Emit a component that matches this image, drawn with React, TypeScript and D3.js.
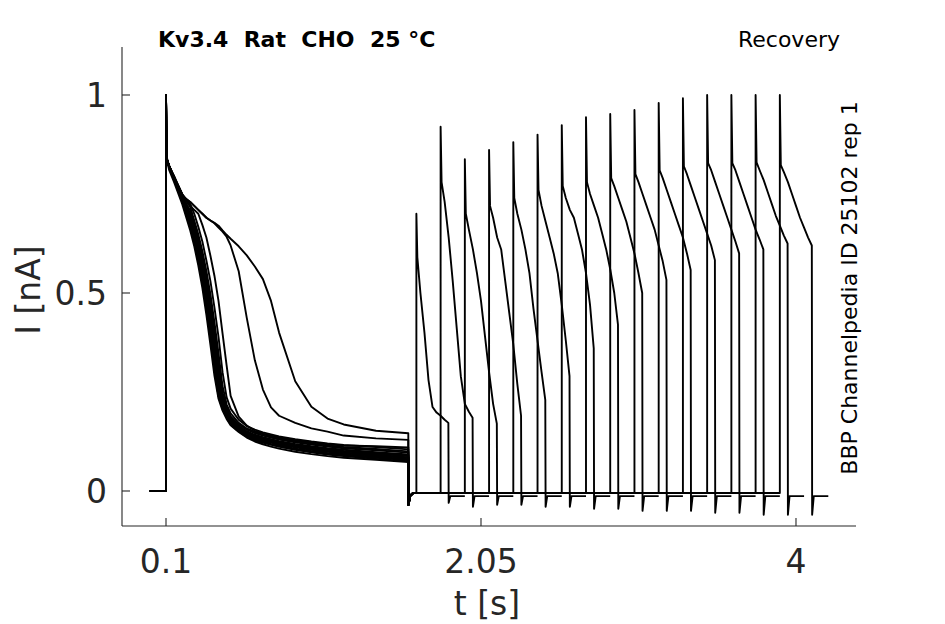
import React from 'react';
import * as d3 from 'd3';

const W = 945;
const H = 624;

// axis limits and ticks
const xLimits = [-0.1724, 4.3715];
const yLimits = [-0.0884, 1.1212];
const xTicks = [0.1, 2.05, 4];
const xTickLabels = ['0.1', '2.05', '4'];
const yTicks = [0, 0.5, 1];
const yTickLabels = ['0', '0.5', '1'];

// protocol times (s)
const recStart = 0;
const pulse1On = 0.1;
const pulse1Off = 1.6;
const pulse1Peak = 1.0;
const pulse1OffDip = -0.035;
const interBaseline = -0.005;
const tailLevel = -0.013;

// first pulse sample times (s)
const firstT = [0.103, 0.12, 0.15, 0.2, 0.25, 0.275, 0.3, 0.325, 0.35, 0.375, 0.4, 0.425, 0.45, 0.475, 0.5, 0.55, 0.6, 0.65, 0.7, 0.75, 0.8, 0.9, 1.0, 1.1, 1.2, 1.4, 1.6];

// first pulse current traces (nA)
const curveA = [0.84, 0.81, 0.78, 0.725, 0.658, 0.618, 0.569, 0.513, 0.445, 0.369, 0.291, 0.233, 0.203, 0.182, 0.166, 0.149, 0.135, 0.125, 0.118, 0.112, 0.107, 0.099, 0.093, 0.088, 0.084, 0.079, 0.073];
const curveB = [0.84, 0.817, 0.785, 0.733, 0.667, 0.63, 0.582, 0.53, 0.463, 0.389, 0.308, 0.24, 0.209, 0.186, 0.168, 0.151, 0.137, 0.128, 0.122, 0.117, 0.112, 0.105, 0.099, 0.094, 0.09, 0.084, 0.078];
const curveC = [0.84, 0.817, 0.785, 0.733, 0.667, 0.63, 0.582, 0.53, 0.463, 0.389, 0.308, 0.24, 0.209, 0.186, 0.17, 0.154, 0.141, 0.133, 0.127, 0.122, 0.117, 0.11, 0.104, 0.099, 0.095, 0.089, 0.083];
const curveD = [0.84, 0.82, 0.79, 0.74, 0.675, 0.64, 0.594, 0.543, 0.48, 0.407, 0.328, 0.257, 0.214, 0.19, 0.172, 0.155, 0.141, 0.131, 0.125, 0.119, 0.115, 0.107, 0.101, 0.096, 0.092, 0.086, 0.08];
const curveE = [0.84, 0.82, 0.79, 0.74, 0.675, 0.64, 0.594, 0.543, 0.48, 0.407, 0.328, 0.257, 0.216, 0.193, 0.176, 0.16, 0.147, 0.138, 0.132, 0.127, 0.122, 0.115, 0.109, 0.104, 0.1, 0.094, 0.088];
const curveF = [0.84, 0.82, 0.79, 0.746, 0.683, 0.648, 0.606, 0.556, 0.497, 0.426, 0.348, 0.274, 0.219, 0.197, 0.178, 0.158, 0.145, 0.135, 0.129, 0.124, 0.119, 0.112, 0.106, 0.101, 0.097, 0.091, 0.085];
const curveG = [0.84, 0.82, 0.79, 0.746, 0.683, 0.648, 0.606, 0.556, 0.497, 0.426, 0.348, 0.274, 0.222, 0.2, 0.182, 0.164, 0.151, 0.142, 0.136, 0.131, 0.126, 0.119, 0.113, 0.108, 0.104, 0.098, 0.092];
const curveH = [0.84, 0.82, 0.79, 0.748, 0.692, 0.658, 0.618, 0.569, 0.513, 0.445, 0.369, 0.291, 0.229, 0.203, 0.182, 0.162, 0.149, 0.139, 0.133, 0.128, 0.123, 0.116, 0.11, 0.105, 0.101, 0.096, 0.09];
const curveI = [0.84, 0.82, 0.79, 0.748, 0.7, 0.667, 0.63, 0.582, 0.53, 0.463, 0.389, 0.308, 0.237, 0.209, 0.188, 0.168, 0.155, 0.146, 0.14, 0.135, 0.13, 0.123, 0.117, 0.112, 0.108, 0.103, 0.097];
const curveJ = [0.84, 0.82, 0.792, 0.75, 0.717, 0.683, 0.648, 0.606, 0.556, 0.497, 0.426, 0.348, 0.265, 0.219, 0.196, 0.172, 0.158, 0.149, 0.143, 0.138, 0.133, 0.126, 0.12, 0.115, 0.111, 0.106, 0.1];
const curveK = [0.84, 0.82, 0.795, 0.75, 0.725, 0.7, 0.667, 0.63, 0.582, 0.53, 0.463, 0.389, 0.3, 0.237, 0.208, 0.18, 0.164, 0.155, 0.148, 0.143, 0.138, 0.131, 0.125, 0.12, 0.116, 0.111, 0.105];
const curveM = [0.84, 0.82, 0.795, 0.748, 0.72, 0.71, 0.7, 0.672, 0.64, 0.594, 0.543, 0.48, 0.398, 0.318, 0.24, 0.188, 0.165, 0.152, 0.145, 0.14, 0.135, 0.128, 0.123, 0.118, 0.115, 0.113, 0.11];
const curveN = [0.84, 0.82, 0.79, 0.745, 0.73, 0.72, 0.71, 0.7, 0.69, 0.683, 0.676, 0.665, 0.655, 0.642, 0.62, 0.555, 0.437, 0.33, 0.256, 0.211, 0.19, 0.172, 0.158, 0.15, 0.14, 0.133, 0.129];
const curveO = [0.845, 0.82, 0.79, 0.745, 0.73, 0.72, 0.71, 0.7, 0.69, 0.683, 0.677, 0.67, 0.658, 0.647, 0.637, 0.618, 0.595, 0.567, 0.535, 0.48, 0.4, 0.277, 0.213, 0.183, 0.168, 0.152, 0.146];
const curveP = [0.84, 0.82, 0.79, 0.748, 0.692, 0.658, 0.618, 0.569, 0.513, 0.445, 0.369, 0.291, 0.225, 0.198, 0.176, 0.155, 0.141, 0.13, 0.123, 0.117, 0.112, 0.104, 0.098, 0.092, 0.088, 0.081, 0.075];
const curveQ = [0.84, 0.82, 0.79, 0.745, 0.708, 0.675, 0.64, 0.594, 0.543, 0.48, 0.407, 0.328, 0.248, 0.213, 0.186, 0.16, 0.146, 0.136, 0.129, 0.124, 0.119, 0.112, 0.106, 0.101, 0.097, 0.091, 0.085];

// which first-pulse trace belongs to each sweep
const sweepFirst = [curveC, curveO, curveA, curveB, curveD, curveN, curveE, curveF, curveK, curveG, curveH, curveM, curveI, curveP, curveJ, curveQ];

// second (test) pulse onsets (s), peaks (nA)
const testOn = [1.65, 1.8, 1.95, 2.1, 2.25, 2.4, 2.55, 2.7, 2.85, 3.0, 3.15, 3.3, 3.45, 3.6, 3.75, 3.9];
const testPeak = [0.7, 0.92, 0.838, 0.861, 0.881, 0.9, 0.924, 0.944, 0.952, 0.962, 0.98, 0.992, 1.0, 1.0, 1.0, 1.0];
const testTailMin = [-0.03, -0.04, -0.035, -0.035, -0.04, -0.04, -0.045, -0.045, -0.05, -0.05, -0.05, -0.055, -0.055, -0.06, -0.06, -0.06];
const testDuration = 0.2;
const sweepTail = 0.1;

// test pulse sample offsets (s) after onset
const testDt = [0.006, 0.025, 0.05, 0.075, 0.1, 0.125, 0.15, 0.175, 0.198];
const test1 = [0.59, 0.5, 0.4, 0.28, 0.212, 0.198, 0.19, 0.18, 0.172];
const test2 = [0.78, 0.73, 0.64, 0.53, 0.41, 0.29, 0.22, 0.2, 0.185];
const test3 = [0.7, 0.66, 0.61, 0.55, 0.48, 0.39, 0.3, 0.22, 0.17];
const test4 = [0.72, 0.69, 0.64, 0.61, 0.53, 0.45, 0.37, 0.27, 0.19];
const test5 = [0.74, 0.7, 0.66, 0.61, 0.55, 0.46, 0.38, 0.3, 0.23];
const test6 = [0.76, 0.72, 0.68, 0.64, 0.6, 0.55, 0.47, 0.38, 0.29];
const test7 = [0.77, 0.74, 0.71, 0.69, 0.65, 0.61, 0.55, 0.47, 0.36];
const test8 = [0.78, 0.75, 0.72, 0.69, 0.65, 0.61, 0.56, 0.5, 0.42];
const test9 = [0.79, 0.77, 0.74, 0.71, 0.68, 0.64, 0.6, 0.55, 0.5];
const test10 = [0.8, 0.78, 0.75, 0.72, 0.69, 0.66, 0.62, 0.58, 0.533];
const test11 = [0.81, 0.79, 0.76, 0.73, 0.7, 0.67, 0.64, 0.6, 0.558];
const test12 = [0.82, 0.8, 0.77, 0.74, 0.71, 0.68, 0.65, 0.62, 0.583];
const test13 = [0.828, 0.81, 0.78, 0.75, 0.72, 0.69, 0.66, 0.63, 0.6];
const test14 = [0.828, 0.81, 0.78, 0.75, 0.72, 0.69, 0.66, 0.635, 0.61];
const test15 = [0.83, 0.81, 0.785, 0.755, 0.725, 0.695, 0.67, 0.645, 0.625];
const test16 = [0.823, 0.805, 0.78, 0.75, 0.72, 0.69, 0.665, 0.64, 0.62];
const sweepTest = [test1, test2, test3, test4, test5, test6, test7, test8, test9, test10, test11, test12, test13, test14, test15, test16];

const FONT = '"DejaVu Sans", Verdana, sans-serif';
const AX = '#262626';

function buildSweep(i: number): [number, number][] {
  const pts: [number, number][] = [];
  pts.push([recStart, 0], [pulse1On, 0], [pulse1On, pulse1Peak]);
  const f = sweepFirst[i];
  firstT.forEach((t, j) => pts.push([t, f[j]]));
  pts.push([pulse1Off + 0.001, pulse1OffDip], [pulse1Off + 0.012, -0.012], [pulse1Off + 0.03, interBaseline]);
  const on = testOn[i];
  pts.push([on, interBaseline], [on, testPeak[i]]);
  const s = sweepTest[i];
  testDt.forEach((dt, j) => pts.push([on + dt, s[j]]));
  pts.push([on + testDuration, testTailMin[i]], [on + testDuration + 0.01, tailLevel], [on + testDuration + sweepTail, tailLevel]);
  return pts;
}

export default function App() {
  const left = 122, right = 856, top = 47, bottom = 526;
  const x = d3.scaleLinear().domain(xLimits).range([left, right]);
  const y = d3.scaleLinear().domain(yLimits).range([bottom, top]);
  const line = d3.line<[number, number]>().x(d => x(d[0])).y(d => y(d[1]));
  const sweeps = testOn.map((_, i) => buildSweep(i));
  const tickLen = 8;

  return (
    <div style={{ position: 'fixed', left: 0, top: 0, width: W, height: H, background: '#fff' }}>
      <svg width={W} height={H} viewBox={`0 0 ${W} ${H}`} style={{ display: 'block' }}>
        <rect x={0} y={0} width={W} height={H} fill="#fff" />
        <g>
          {sweeps.map((s, i) => (
            <path key={i} d={line(s) || ''} fill="none" stroke="#000" strokeWidth={1.9} strokeLinejoin="round" />
          ))}
        </g>
        {/* axes */}
        <line x1={left} y1={top} x2={left} y2={bottom} stroke={AX} strokeWidth={1.1} />
        <line x1={left} y1={bottom} x2={right} y2={bottom} stroke={AX} strokeWidth={1.1} />
        {xTicks.map((t, i) => (
          <g key={'xt' + i}>
            <line x1={x(t)} x2={x(t)} y1={bottom} y2={bottom - tickLen} stroke={AX} strokeWidth={1.1} />
            <text x={x(t)} y={573} textAnchor="middle" fontFamily={FONT} fontSize={33} fill={AX}>{xTickLabels[i]}</text>
          </g>
        ))}
        {yTicks.map((t, i) => (
          <g key={'yt' + i}>
            <line x1={left} x2={left + tickLen} y1={y(t)} y2={y(t)} stroke={AX} strokeWidth={1.1} />
            <text x={107} y={y(t)} dy="0.36em" textAnchor="end" fontFamily={FONT} fontSize={33} fill={AX}>{yTickLabels[i]}</text>
          </g>
        ))}
        <text x={(left + right) / 2 - 2} y={615} textAnchor="middle" fontFamily={FONT} fontSize={33} fill={AX}>t [s]</text>
        <text transform="translate(40,290) rotate(-90)" textAnchor="middle" fontFamily={FONT} fontSize={33} fill={AX}>I [nA]</text>
        <text x={158} y={47} fontFamily={FONT} fontSize={22} fontWeight="bold" fill="#000" style={{ whiteSpace: 'pre' }}>{'Kv3.4  Rat  CHO  25 °C'}</text>
        <text x={840} y={47} textAnchor="end" fontFamily={FONT} fontSize={22} fill="#000">Recovery</text>
        <text transform="translate(857,288) rotate(-90)" textAnchor="middle" fontFamily={FONT} fontSize={22} fill="#000">BBP Channelpedia ID 25102 rep 1</text>
      </svg>
    </div>
  );
}
